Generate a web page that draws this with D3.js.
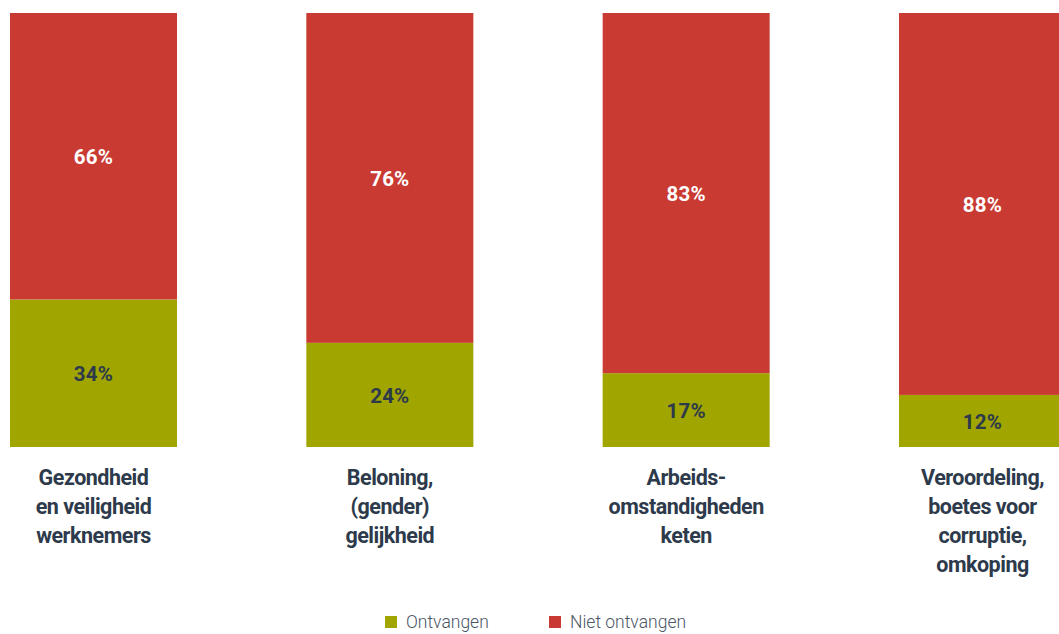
<!DOCTYPE html>
<html>
<head>
<meta charset="utf-8">
<script src="https://cdn.jsdelivr.net/npm/d3@7"></script>
<style>
  html, body { margin: 0; padding: 0; background: #ffffff; overflow: hidden; }
  svg { display: block; }
</style>
</head>
<body>
<svg id="chart" width="1059" height="634"></svg>
<script>
// Categories (multi-line labels) and stacked shares in percent
const categories = [
  "Gezondheid|en veiligheid|werknemers",
  "Beloning,|(gender)|gelijkheid",
  "Arbeids-|omstandigheden|keten",
  "Veroordeling,|boetes voor|corruptie,|omkoping"
];
const ontvangen = [34, 24, 17, 12];
const nietOntvangen = [66, 76, 83, 88];
const seriesNames = ["Ontvangen", "Niet ontvangen"];
const seriesColors = ["#a0a500", "#c93a33"];

const svg = d3.select("#chart");

const rows = categories.map((c, i) => ({
  cat: c,
  "Ontvangen": ontvangen[i],
  "Niet ontvangen": nietOntvangen[i]
}));

const x = d3.scaleBand()
  .domain(categories)
  .range([10, 1066])
  .paddingInner(0.4364)
  .paddingOuter(0);

const y = d3.scaleLinear()
  .domain([0, 100])
  .range([447, 13]);

const color = d3.scaleOrdinal().domain(seriesNames).range(seriesColors);

const stack = d3.stack().keys(seriesNames);
const layers = stack(rows);

const g = svg.append("g");

const layer = g.selectAll("g.layer")
  .data(layers)
  .join("g")
  .attr("class", "layer")
  .attr("fill", d => color(d.key));

layer.selectAll("rect")
  .data(d => d.map(p => ({ p, key: d.key })))
  .join("rect")
  .attr("x", d => x(d.p.data.cat))
  .attr("width", x.bandwidth())
  .attr("y", d => y(d.p[1]))
  .attr("height", d => y(d.p[0]) - y(d.p[1]));

// Value labels centred in each segment
layer.selectAll("text")
  .data(d => d.map(p => ({ p, key: d.key })))
  .join("text")
  .attr("x", d => x(d.p.data.cat) + x.bandwidth() / 2)
  .attr("y", d => (y(d.p[0]) + y(d.p[1])) / 2)
  .attr("dy", "0.38em")
  .attr("text-anchor", "middle")
  .attr("font-family", "Roboto, 'Noto Sans', sans-serif")
  .attr("font-weight", 700)
  .attr("font-size", 20.5)
  .attr("letter-spacing", "0.2px")
  .attr("fill", d => d.key === "Ontvangen" ? "#2d3a4b" : "#ffffff")
  .text(d => (d.p[1] - d.p[0]) + "%");

// Category axis (no line, no ticks)
const xAxis = d3.axisBottom(x).tickSize(0).tickFormat("");
const axisG = svg.append("g")
  .attr("transform", `translate(0, ${y(0)})`)
  .call(xAxis);
axisG.select(".domain").remove();

axisG.selectAll(".tick").each(function (d) {
  const lines = d.split("|");
  const t = d3.select(this).append("text")
    .attr("text-anchor", "middle")
    .attr("font-family", "Roboto, 'Noto Sans', sans-serif")
    .attr("font-weight", 700)
    .attr("font-size", 21.5)
    .attr("letter-spacing", "-0.5px")
    .attr("fill", "#2d3a4b");
  lines.forEach((ln, i) => {
    t.append("tspan")
      .attr("x", 0)
      .attr("y", 38 + i * 29)
      .text(ln);
  });
});

// Legend
const legendX = [385, 549];
const legend = svg.append("g").selectAll("g")
  .data(seriesNames)
  .join("g")
  .attr("transform", (d, i) => `translate(${legendX[i]}, 616)`);

legend.append("rect")
  .attr("width", 12)
  .attr("height", 12)
  .attr("fill", d => color(d));

legend.append("text")
  .attr("x", 21)
  .attr("y", 6)
  .attr("dy", "0.36em")
  .attr("font-family", "Roboto, 'Noto Sans', sans-serif")
  .attr("font-weight", 300)
  .attr("font-size", 17.5)
  .attr("fill", "#4a5566")
  .text(d => d);
</script>
</body>
</html>
